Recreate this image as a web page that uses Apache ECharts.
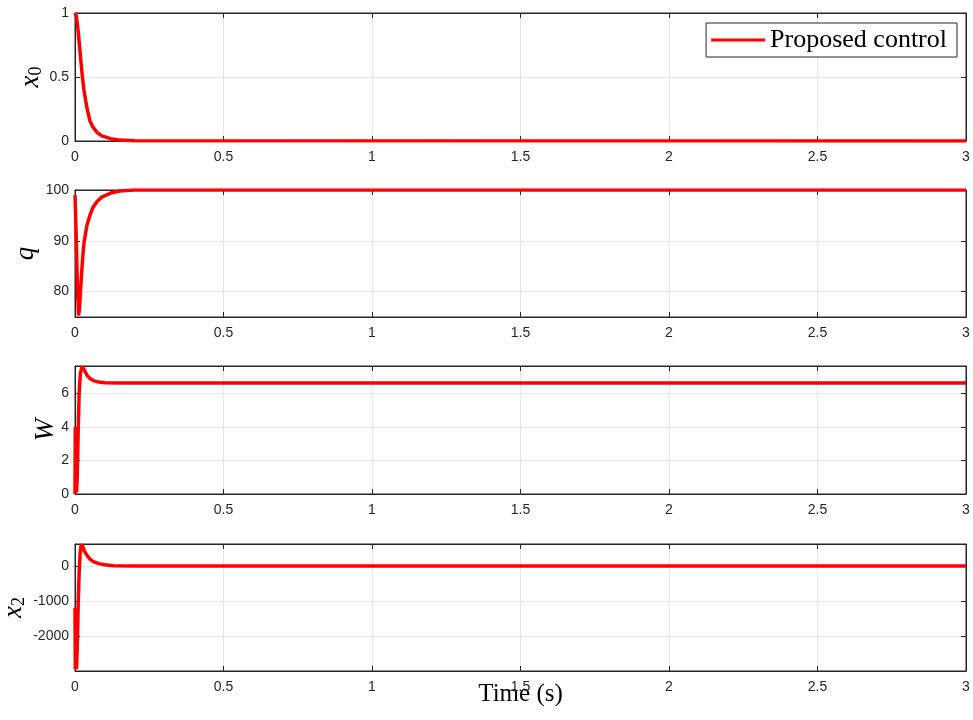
<!DOCTYPE html>
<html>
<head>
<meta charset="utf-8">
<script src="https://cdn.jsdelivr.net/npm/echarts@6/dist/echarts.min.js"></script>
<style>
  html, body { margin: 0; padding: 0; background: #fff; }
  #main { width: 973px; height: 720px; }
</style>
</head>
<body>
<div id="main"></div>
<script>
// x axis ticks
var timeTicks = [0, 0.5, 1, 1.5, 2, 2.5, 3];

// x0
var tX0 = [0, 0.005, 0.01, 0.015, 0.02, 0.025, 0.03, 0.04, 0.05, 0.06, 0.075, 0.09, 0.12, 0.15, 0.2, 3];
var vX0 = [1, 0.97, 0.87, 0.75, 0.62, 0.5, 0.4, 0.26, 0.16, 0.11, 0.065, 0.04, 0.018, 0.007, 0.001, 0];

// q
var tQ = [0, 0.004, 0.008, 0.012, 0.015, 0.02, 0.025, 0.03, 0.04, 0.05, 0.06, 0.075, 0.09, 0.12, 0.15, 0.2, 3];
var vQ = [99, 91, 81, 75.3, 76.5, 81.5, 86, 89.5, 93, 95, 96.5, 97.8, 98.6, 99.4, 99.8, 100, 100];

// W
var tW = [0, 0.001, 0.002, 0.003, 0.004, 0.005, 0.007, 0.009, 0.011, 0.014, 0.018, 0.024, 0.03, 0.04, 0.05, 0.062, 0.08, 0.1, 0.15, 3];
var vW = [0, 4, 0.2, 4, 0.3, 0.1, 0.8, 2.2, 4.0, 6.0, 7.2, 7.62, 7.45, 7.1, 6.9, 6.77, 6.68, 6.64, 6.62, 6.62];

// x2
var tX2 = [0, 0.001, 0.002, 0.003, 0.004, 0.005, 0.007, 0.009, 0.011, 0.014, 0.017, 0.02, 0.023, 0.027, 0.032, 0.04, 0.05, 0.062, 0.08, 0.1, 0.13, 0.2, 3];
var vX2 = [-1200, -2950, -1200, -2950, -1500, -2950, -2500, -1800, -1000, -200, 330, 560, 620, 540, 420, 310, 200, 125, 70, 35, 10, 0, 0];

// y tick labels
var ticksX0 = [0, 0.5, 1];
var ticksQ = [80, 90, 100];
var ticksW = [0, 2, 4, 6];
var ticksX2 = [-2000, -1000, 0];

function pairs(t, v) {
  return t.map(function (x, i) { return [x, v[i]]; });
}

var axisColor = '#262626';
var gridColor = '#e6e6e6';
var serif = 'Liberation Serif, Times New Roman, serif';
var lbl = { color: axisColor, fontSize: 14, fontFamily: 'Liberation Sans, Arial, sans-serif',
  formatter: function (v) { return String(v); } };

var grids = [
  { left: 75, right: 7, top: 13, height: 128 },
  { left: 75, right: 7, top: 190, height: 127 },
  { left: 75, right: 7, top: 366, height: 128 },
  { left: 75, right: 7, top: 544, height: 127 }
];
grids.forEach(function (g) {
  g.show = true; g.borderColor = axisColor; g.borderWidth = 1; g.backgroundColor = '#fff';
  g.containLabel = false; g.outerBoundsMode = 'none';
});

var line = { show: true, onZero: false, lineStyle: { color: axisColor } };
var tick = { show: true, inside: true, length: 5, lineStyle: { color: axisColor } };

function xAxis(i) {
  var a = {
    type: 'value', gridIndex: i, min: 0, max: 3, interval: 0.5, position: 'bottom',
    axisLine: line,
    axisTick: tick,
    axisLabel: Object.assign({ margin: 9, customValues: timeTicks }, lbl),
    splitLine: { show: true, lineStyle: { color: gridColor } }
  };
  if (i === 3) {
    a.name = 'Time (s)';
    a.nameLocation = 'middle';
    a.nameGap = 11;
    a.nameMoveOverlap = false;
    a.nameTextStyle = { fontFamily: serif, fontSize: 25, color: '#000', verticalAlign: 'top' };
  }
  return a;
}

function xAxisTop(i) {
  return {
    type: 'value', gridIndex: i, min: 0, max: 3, interval: 0.5, position: 'top',
    axisLine: line, axisTick: tick, axisLabel: { show: false }, splitLine: { show: false }
  };
}

var nameRich = {
  i: { fontFamily: serif, fontStyle: 'italic', fontSize: 27, color: '#000', lineHeight: 28 },
  s: { fontFamily: serif, fontSize: 18, color: '#000', verticalAlign: 'bottom', lineHeight: 8 }
};

function yAxis(i, min, max, ticks, name, gap) {
  return {
    type: 'value', gridIndex: i, min: min, max: max, position: 'left',
    name: name, nameLocation: 'middle', nameGap: gap, nameRotate: 90, nameMoveOverlap: false,
    nameTextStyle: { rich: nameRich },
    axisLine: line,
    axisTick: Object.assign({ customValues: ticks }, tick),
    axisLabel: Object.assign({ margin: 6, customValues: ticks }, lbl),
    splitLine: { show: true, lineStyle: { color: gridColor } }
  };
}

function yAxisRight(i, min, max, ticks) {
  return {
    type: 'value', gridIndex: i, min: min, max: max, position: 'right',
    axisLine: line,
    axisTick: Object.assign({ customValues: ticks }, tick),
    axisLabel: { show: false, customValues: ticks }, splitLine: { show: false }
  };
}

function series(i, name, t, v) {
  return {
    type: 'line', name: name, xAxisIndex: i, yAxisIndex: i,
    data: pairs(t, v), showSymbol: false, symbol: 'none',
    lineStyle: { color: '#ff0000', width: 3.5 }, itemStyle: { color: '#ff0000' },
    clip: true, z: 3
  };
}

var chart = echarts.init(document.getElementById('main'));
chart.setOption({
  animation: false,
  backgroundColor: '#fff',
  grid: grids,
  xAxis: [xAxis(0), xAxis(1), xAxis(2), xAxis(3), xAxisTop(0), xAxisTop(1), xAxisTop(2), xAxisTop(3)],
  yAxis: [
    yAxis(0, 0, 1, ticksX0, '{i|x}{s|0}', 30),
    yAxis(1, 75, 100, ticksQ, '{i|q}', 35),
    yAxis(2, 0, 7.64, ticksW, '{i|W}', 15),
    yAxis(3, -3000, 630, ticksX2, '{i|x}{s|2}', 47),
    yAxisRight(0, 0, 1, ticksX0),
    yAxisRight(1, 75, 100, ticksQ),
    yAxisRight(2, 0, 7.64, ticksW),
    yAxisRight(3, -3000, 630, ticksX2)
  ],
  legend: {
    data: ['Proposed control'],
    right: 16, top: 23,
    backgroundColor: '#fff', borderColor: axisColor, borderWidth: 1,
    padding: [4, 10, 4, 5],
    icon: 'rect', itemWidth: 54, itemHeight: 3, itemGap: 4,
    textStyle: { fontFamily: serif, fontSize: 26, color: '#000' }
  },
  series: [
    series(0, 'Proposed control', tX0, vX0),
    series(1, 'q', tQ, vQ),
    series(2, 'W', tW, vW),
    series(3, 'x2', tX2, vX2)
  ]
});
</script>
</body>
</html>
